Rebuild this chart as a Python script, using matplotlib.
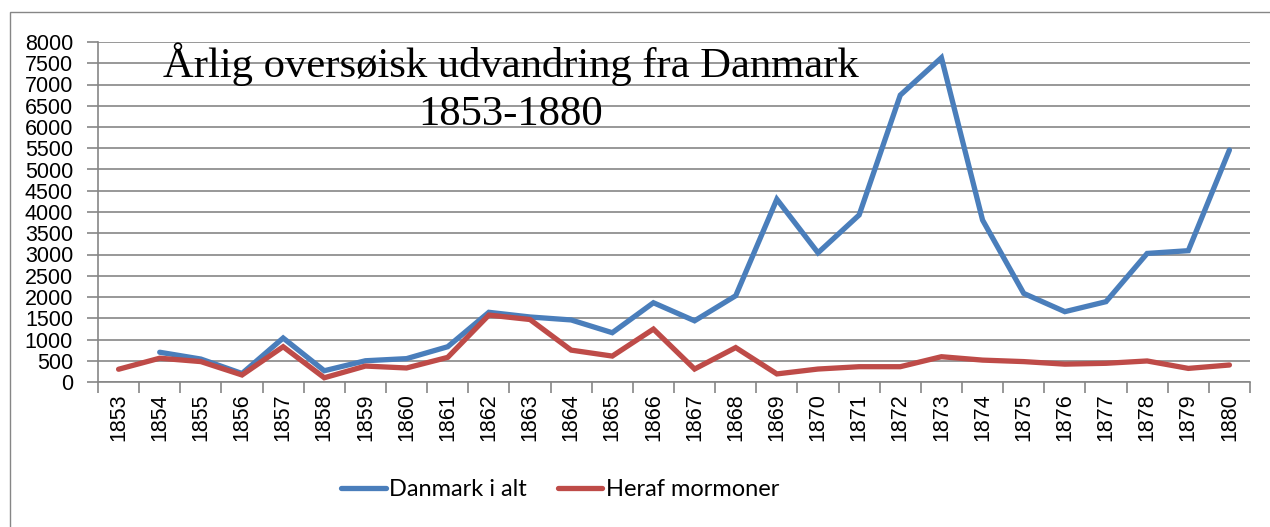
import numpy as np
import matplotlib
matplotlib.use("Agg")
import matplotlib.pyplot as plt
from matplotlib.patches import Rectangle
from matplotlib.ticker import FixedLocator

years = [str(y) for y in range(1853, 1881)]
danmark_i_alt = [np.nan, 700, 540, 200, 1035, 265, 500, 550, 830, 1640, 1530, 1460,
                 1160, 1865, 1440, 2030, 4300, 3040, 3930, 6750, 7630, 3810, 2085,
                 1655, 1890, 3025, 3090, 5460]
heraf_mormoner = [300, 560, 480, 165, 830, 100, 375, 330, 580, 1575, 1470, 750,
                  610, 1245, 305, 810, 190, 305, 360, 360, 595, 515, 480, 420,
                  440, 495, 320, 400]
y_ticks = list(range(0, 8001, 500))
title_lines = ["Årlig oversøisk udvandring fra Danmark", "1853-1880"]

W, H = 1270, 527
fig = plt.figure(figsize=(W / 100, H / 100), dpi=100)
fig.patches.append(Rectangle((10 / W, -0.05), 1.1, 1.05 - 12 / H,
                             transform=fig.transFigure, fill=False,
                             edgecolor="#868686", linewidth=1.0))

ax = fig.add_axes([98 / W, (H - 382) / H, 1152 / W, 340 / H])
x = np.arange(len(years))
blue = "#4A7EBB"
red = "#BE4B48"
l1, = ax.plot(x, danmark_i_alt, color=blue, lw=3.8, solid_capstyle="round",
              solid_joinstyle="miter", label="Danmark i alt", zorder=3)
l2, = ax.plot(x, heraf_mormoner, color=red, lw=3.8, solid_capstyle="round",
              solid_joinstyle="miter", label="Heraf mormoner", zorder=4)

ax.set_xlim(-0.5, len(years) - 0.5)
ax.set_ylim(0, 8000)
ax.set_yticks(y_ticks)
ax.set_yticklabels([str(v) for v in y_ticks])
ax.yaxis.grid(True, color="#868686", lw=1.2)
ax.set_axisbelow(True)

ax.set_xticks(x)
ax.set_xticklabels(years, rotation=90)
ax.xaxis.set_minor_locator(FixedLocator(np.arange(-0.5, len(years), 1.0)))
ax.tick_params(axis="x", which="major", length=0, pad=8)
ax.tick_params(axis="x", which="minor", length=8, color="#868686", width=1.2)
ax.tick_params(axis="y", length=8, color="#868686", width=1.2, pad=10)

for s in ["top", "right"]:
    ax.spines[s].set_visible(False)
for s in ["left", "bottom"]:
    ax.spines[s].set_color("#868686")
    ax.spines[s].set_linewidth(1.2)

for lab in ax.get_xticklabels() + ax.get_yticklabels():
    lab.set_fontfamily("Liberation Sans")
    lab.set_fontsize(15.5)

fig.text(511 / W, 1 - 77 / H, title_lines[0], ha="center", va="baseline",
         fontsize=30.7, family="Liberation Serif")
fig.text(511 / W, 1 - 125 / H, title_lines[1], ha="center", va="baseline",
         fontsize=30.7, family="Liberation Serif")

fig.legend(handles=[l1, l2], loc="center", bbox_to_anchor=(560 / W, 1 - 490 / H),
           ncol=2, frameon=False,
           prop={"family": "Lato", "size": 17},
           handlelength=1.9, handletextpad=0.15, columnspacing=1.3)

fig.savefig("out.png", dpi=100)
